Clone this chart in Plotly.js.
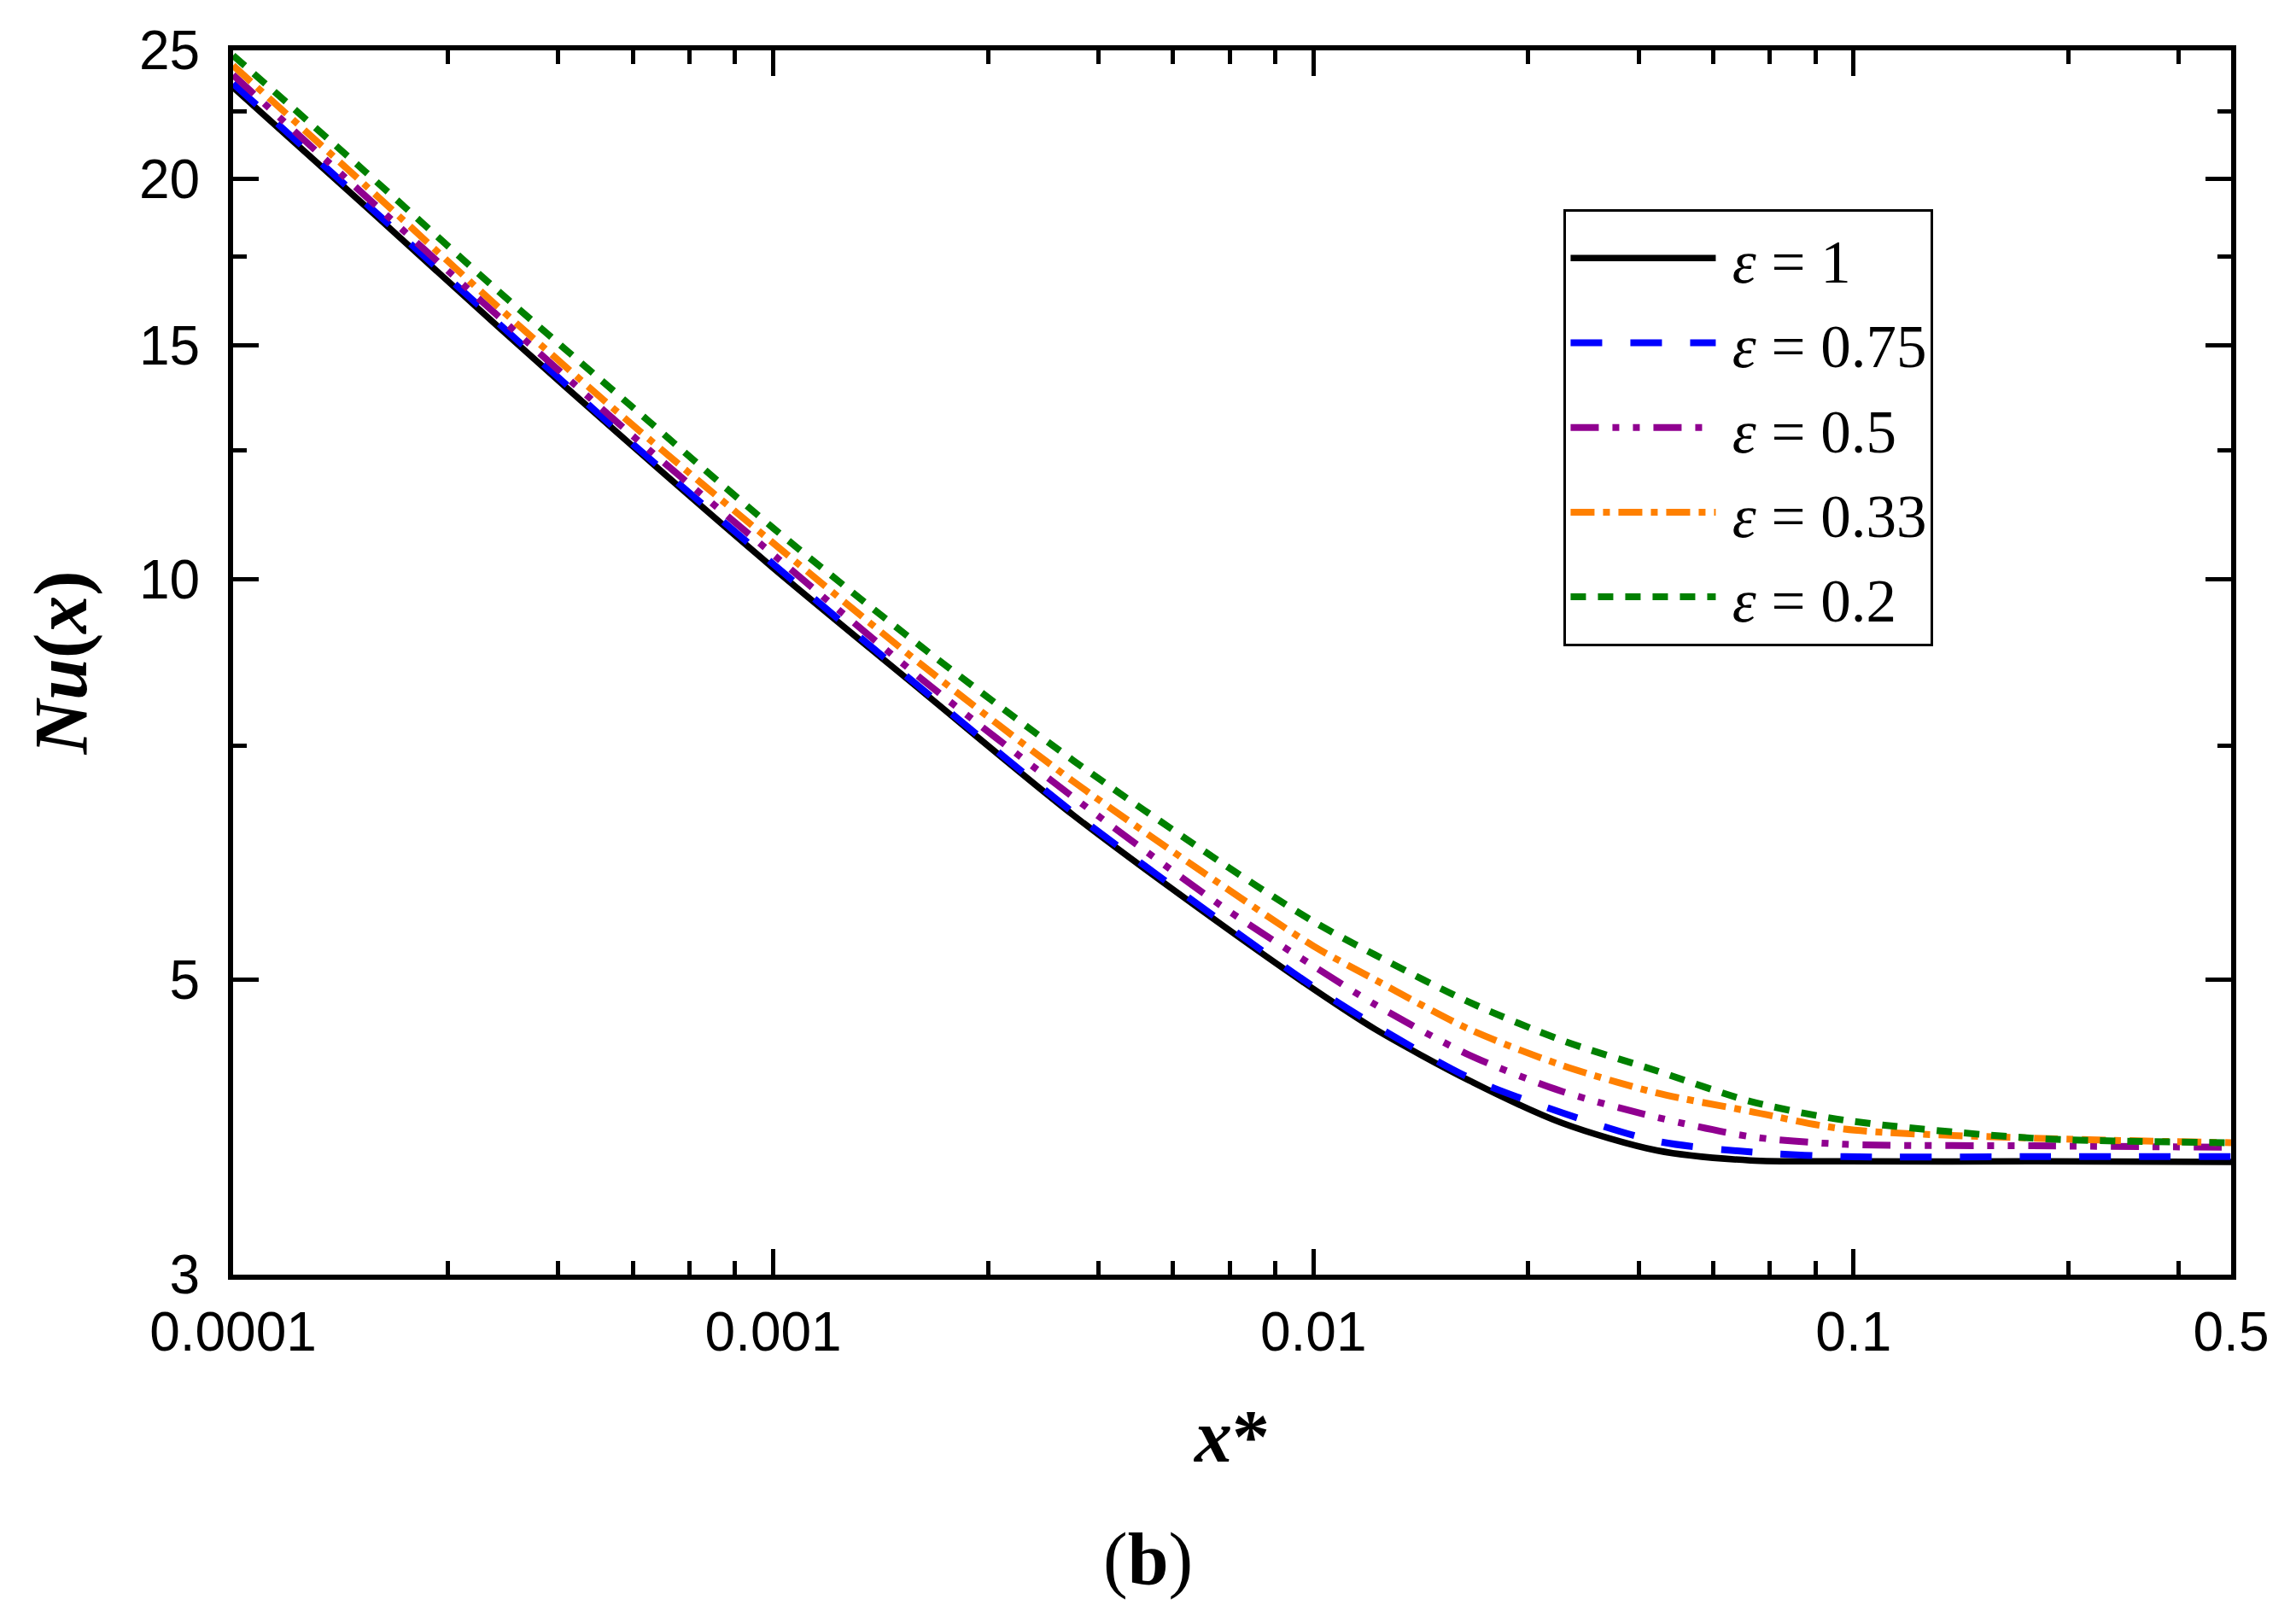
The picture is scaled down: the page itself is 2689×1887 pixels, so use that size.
<!DOCTYPE html>
<html>
<head>
<meta charset="utf-8">
<script src="https://cdn.plot.ly/plotly-3.0.1.min.js"></script>
<style>html,body{margin:0;padding:0;background:#fff;}</style>
</head>
<body>
<div id="chart" style="width:2689px;height:1887px;"></div>
<script>
// ---- data ----
const xStar = [0.0001, 0.000175, 0.000309, 0.000545, 0.001, 0.00188, 0.00359, 0.00689, 0.01, 0.013, 0.0194, 0.0289, 0.0432, 0.0644, 0.0962, 0.214, 0.5];

const nuEps1    = [23.45, 19.12, 15.50, 12.63, 10.20, 8.25, 6.65, 5.47, 4.92, 4.59, 4.20, 3.90, 3.72, 3.656, 3.65, 3.65, 3.647];
const nuEps075  = [23.60, 19.22, 15.60, 12.68, 10.27, 8.28, 6.68, 5.50, 4.94, 4.62, 4.22, 3.97, 3.78, 3.71, 3.68, 3.68, 3.68];
const nuEps05   = [23.96, 19.46, 15.79, 12.86, 10.44, 8.42, 6.86, 5.65, 5.12, 4.79, 4.39, 4.12, 3.94, 3.81, 3.76, 3.75, 3.74];
const nuEps033  = [24.35, 19.82, 16.04, 13.10, 10.65, 8.63, 7.05, 5.86, 5.30, 5.00, 4.59, 4.31, 4.11, 3.98, 3.86, 3.80, 3.77];
const nuEps02   = [24.78, 20.29, 16.49, 13.51, 10.93, 8.90, 7.31, 6.09, 5.53, 5.22, 4.81, 4.50, 4.27, 4.05, 3.92, 3.80, 3.77];

const epsValues = ['1', '0.75', '0.5', '0.33', '0.2'];

const xTickVals  = [0.0001, 0.001, 0.01, 0.1, 0.5];
const xTickText  = ['0.0001', '0.001', '0.01', '0.1', '0.5'];
const xMinorVals = [0.00025, 0.0004, 0.00055, 0.0007, 0.00085,
                    0.0025, 0.004, 0.0055, 0.007, 0.0085,
                    0.025, 0.04, 0.055, 0.07, 0.085,
                    0.25, 0.4];
const yTickVals  = [3, 5, 10, 15, 20, 25];
const yTickText  = ['3', '5', '10', '15', '20', '25'];
const yMinorVals = [7.5, 12.5, 17.5, 22.5];

// ---- styles ----
const seriesY = [nuEps1, nuEps075, nuEps05, nuEps033, nuEps02];
const colors = ['#000000', '#0000FF', '#900090', '#FF8000', '#008000'];
const dashes = ['solid', '37px,33px', '33px,16px,8px,16px,8px,16px', '28px,10px,8px,10px', '18px,14px'];
const widths = [7.5, 8, 8, 8, 8];

const traces = seriesY.map((ys, i) => ({
  x: xStar,
  y: ys,
  type: 'scatter',
  mode: 'lines',
  name: '<span style="font-size:71px">\u2009<i>ε</i> = ' + epsValues[i] + '</span>',
  line: {color: colors[i], width: widths[i], dash: dashes[i], shape: 'spline', smoothing: 0.8}
}));

const tickFont = {family: 'Liberation Sans, Arial, sans-serif', size: 64, color: '#000'};
const serif = 'Liberation Serif, Times New Roman, serif';

const layout = {
  width: 2689,
  height: 1887,
  margin: {l: 273, r: 76, t: 59, b: 394, pad: 0},
  paper_bgcolor: '#fff',
  plot_bgcolor: '#fff',
  showlegend: true,
  xaxis: {
    type: 'log',
    range: [Math.log10(0.0001), Math.log10(0.5)],
    tickmode: 'array',
    tickvals: xTickVals,
    ticktext: xTickText,
    ticks: 'inside',
    ticklen: 30,
    tickwidth: 5,
    tickcolor: '#000',
    minor: {tickmode: 'array', tickvals: xMinorVals, ticks: 'inside', ticklen: 16, tickwidth: 5, tickcolor: '#000', showgrid: false},
    showline: true,
    linewidth: 6,
    linecolor: '#000',
    mirror: 'ticks',
    showgrid: false,
    zeroline: false,
    tickfont: tickFont,
    ticklabelstandoff: 6,
    title: {text: '<i>x</i>*', font: {family: serif, size: 88, color: '#000', weight: 'bold'}, standoff: 58},
    automargin: false
  },
  yaxis: {
    type: 'log',
    range: [Math.log10(3), Math.log10(25)],
    tickmode: 'array',
    tickvals: yTickVals,
    ticktext: yTickText,
    ticks: 'inside',
    ticklen: 30,
    tickwidth: 5,
    tickcolor: '#000',
    minor: {tickmode: 'array', tickvals: yMinorVals, ticks: 'inside', ticklen: 16, tickwidth: 5, tickcolor: '#000', showgrid: false},
    showline: true,
    linewidth: 6,
    linecolor: '#000',
    mirror: 'ticks',
    showgrid: false,
    zeroline: false,
    tickfont: tickFont,
    ticklabelstandoff: 20,
    title: {text: '<i>Nu</i>(<i>x</i>)', font: {family: serif, size: 88, color: '#000', weight: 'bold'}, standoff: 34},
    automargin: false
  },
  legend: {
    x: 0.666,
    y: 0.8705,
    xanchor: 'left',
    yanchor: 'top',
    bgcolor: '#fff',
    bordercolor: '#000',
    borderwidth: 3,
    font: {family: serif, size: 74, color: '#000'},
    itemwidth: 170,
    tracegroupgap: 0
  },
  annotations: [{
    text: '(<b>b</b>)',
    xref: 'paper', yref: 'paper',
    x: (1344 - 273) / 2340, y: -0.2322,
    xanchor: 'center', yanchor: 'middle',
    showarrow: false,
    font: {family: serif, size: 86, color: '#000'}
  }]
};

Plotly.newPlot('chart', traces, layout, {displayModeBar: false, staticPlot: true});
</script>
</body>
</html>
